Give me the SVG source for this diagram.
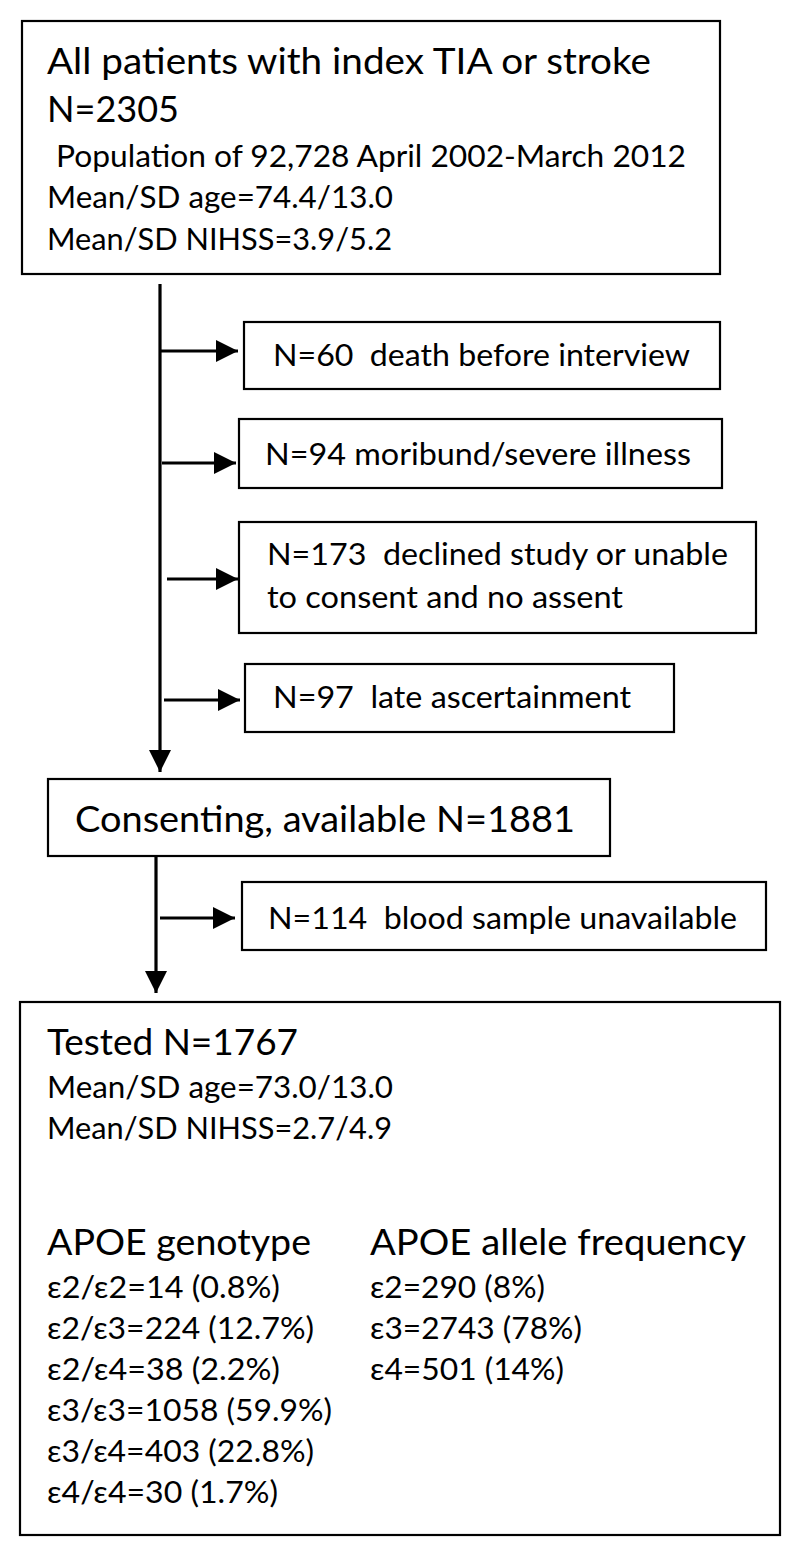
<svg xmlns="http://www.w3.org/2000/svg" width="800" height="1559" viewBox="0 0 800 1559">
<style>
.box{fill:#fff;stroke:#000;stroke-width:2.2}
.t{font-family:Lato,"Open Sans","Liberation Sans",sans-serif;fill:#000;white-space:pre}
.big{font-size:37px}
.sm{font-size:31px}
.cn{stroke:#000;stroke-width:3.2;fill:none}
</style>
<defs>
<marker id="ah" markerUnits="userSpaceOnUse" markerWidth="22" markerHeight="22" refX="20" refY="10" orient="auto" viewBox="0 0 20 20">
<path d="M0,0 L20,10 L0,20 z" fill="#000"/>
</marker>
</defs>
<rect width="800" height="1559" fill="#fff"/>
<g id="connectors">
<line class="cn" x1="160" y1="284" x2="160" y2="772" marker-end="url(#ah)"/>
<line class="cn" x1="160" y1="351" x2="238" y2="351" marker-end="url(#ah)"/>
<line class="cn" x1="162" y1="463" x2="236" y2="463" marker-end="url(#ah)"/>
<line class="cn" x1="167" y1="579" x2="238" y2="579" marker-end="url(#ah)"/>
<line class="cn" x1="164" y1="700" x2="240" y2="700" marker-end="url(#ah)"/>
<line class="cn" x1="156" y1="856" x2="156" y2="993" marker-end="url(#ah)"/>
<line class="cn" x1="160" y1="918" x2="235" y2="918" marker-end="url(#ah)"/>
</g>
<g id="n-all">
<rect class="box" x="22" y="21" width="698" height="253"/>
<text class="t big" x="47" y="74" textLength="604" lengthAdjust="spacingAndGlyphs">All patients with index TIA or stroke</text>
<text class="t big" x="47" y="122" textLength="132" lengthAdjust="spacingAndGlyphs">N=2305</text>
<text class="t sm" x="56" y="167" textLength="630" lengthAdjust="spacingAndGlyphs">Population of 92,728 April 2002-March 2012</text>
<text class="t sm" x="47" y="208" textLength="346" lengthAdjust="spacingAndGlyphs">Mean/SD age=74.4/13.0</text>
<text class="t sm" x="47" y="250" textLength="345" lengthAdjust="spacingAndGlyphs">Mean/SD NIHSS=3.9/5.2</text>
</g>
<g id="n-death">
<rect class="box" x="244" y="322" width="476" height="67"/>
<text class="t sm" x="273" y="366" textLength="417" lengthAdjust="spacingAndGlyphs">N=60  death before interview</text>
</g>
<g id="n-moribund">
<rect class="box" x="239" y="419" width="483" height="69"/>
<text class="t sm" x="265" y="465" textLength="426" lengthAdjust="spacingAndGlyphs">N=94 moribund/severe illness</text>
</g>
<g id="n-declined">
<rect class="box" x="239" y="522" width="517" height="111"/>
<text class="t sm" x="267" y="565" textLength="461" lengthAdjust="spacingAndGlyphs">N=173  declined study or unable</text>
<text class="t sm" x="267" y="608" textLength="356" lengthAdjust="spacingAndGlyphs">to consent and no assent</text>
</g>
<g id="n-late">
<rect class="box" x="245" y="664" width="429" height="68"/>
<text class="t sm" x="273" y="708" textLength="358" lengthAdjust="spacingAndGlyphs">N=97  late ascertainment</text>
</g>
<g id="n-consenting">
<rect class="box" x="48" y="779" width="562" height="77"/>
<text class="t big" x="75" y="832" textLength="500" lengthAdjust="spacingAndGlyphs">Consenting, available N=1881</text>
</g>
<g id="n-blood">
<rect class="box" x="242" y="882" width="524" height="68"/>
<text class="t sm" x="268" y="929" textLength="469" lengthAdjust="spacingAndGlyphs">N=114  blood sample unavailable</text>
</g>
<g id="n-tested">
<rect class="box" x="20" y="1002" width="760" height="533"/>
<text class="t big" x="47" y="1055" textLength="251" lengthAdjust="spacingAndGlyphs">Tested N=1767</text>
<text class="t sm" x="47" y="1098" textLength="346" lengthAdjust="spacingAndGlyphs">Mean/SD age=73.0/13.0</text>
<text class="t sm" x="47" y="1139" textLength="345" lengthAdjust="spacingAndGlyphs">Mean/SD NIHSS=2.7/4.9</text>
<text class="t big" x="47" y="1255" textLength="264" lengthAdjust="spacingAndGlyphs">APOE genotype</text>
<text class="t big" x="370" y="1255" textLength="376" lengthAdjust="spacingAndGlyphs">APOE allele frequency</text>
<text class="t sm" x="47" y="1298" textLength="233" lengthAdjust="spacingAndGlyphs">ε2/ε2=14 (0.8%)</text>
<text class="t sm" x="47" y="1339" textLength="267" lengthAdjust="spacingAndGlyphs">ε2/ε3=224 (12.7%)</text>
<text class="t sm" x="47" y="1380" textLength="233" lengthAdjust="spacingAndGlyphs">ε2/ε4=38 (2.2%)</text>
<text class="t sm" x="47" y="1421" textLength="285" lengthAdjust="spacingAndGlyphs">ε3/ε3=1058 (59.9%)</text>
<text class="t sm" x="47" y="1462" textLength="267" lengthAdjust="spacingAndGlyphs">ε3/ε4=403 (22.8%)</text>
<text class="t sm" x="47" y="1503" textLength="231" lengthAdjust="spacingAndGlyphs">ε4/ε4=30 (1.7%)</text>
<text class="t sm" x="370" y="1298" textLength="175" lengthAdjust="spacingAndGlyphs">ε2=290 (8%)</text>
<text class="t sm" x="370" y="1339" textLength="212" lengthAdjust="spacingAndGlyphs">ε3=2743 (78%)</text>
<text class="t sm" x="370" y="1380" textLength="194" lengthAdjust="spacingAndGlyphs">ε4=501 (14%)</text>
</g>
</svg>
